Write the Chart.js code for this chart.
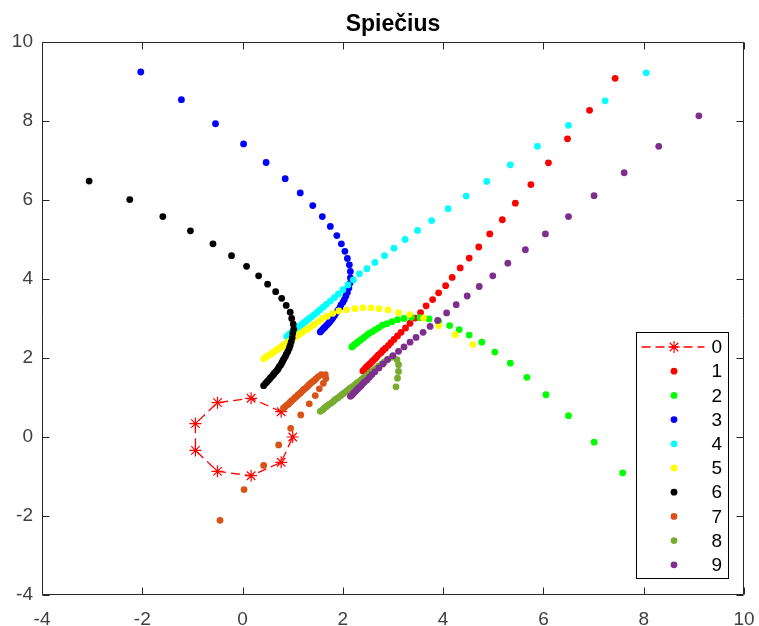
<!DOCTYPE html>
<html>
<head>
<meta charset="utf-8">
<title>Spiečius</title>
<script src="https://cdn.jsdelivr.net/npm/chart.js@4.4.1/dist/chart.umd.min.js"></script>
<style>
  html, body { margin: 0; padding: 0; background: #fff; }
  #plot { display: block; }
</style>
</head>
<body>
<canvas id="plot" width="759" height="626"></canvas>
<script>
// ==================== DATA ====================
const seriesLabels = ['0', '1', '2', '3', '4', '5', '6', '7', '8', '9'];
const seriesColors = ['#ff0000', '#ff0000', '#00ff00', '#0000ff', '#00ffff',
                      '#ffff00', '#000000', '#d95319', '#77ac30', '#7e2f8e'];

// cluster centres, joined by a dashed line
const pts0 = [[0.77,0.64],[0.17,0.98],[-0.50,0.87],[-0.94,0.34],[-0.94,-0.34],
              [-0.50,-0.87],[0.17,-0.98],[0.77,-0.64],[1.00,0.00]];

const pts1 = [[2.40,1.67],[2.42,1.70],[2.45,1.74],[2.48,1.78],[2.51,1.82],[2.54,1.85],[2.57,1.89],
              [2.60,1.93],[2.64,1.98],[2.67,2.02],[2.71,2.08],[2.76,2.13],[2.80,2.19],[2.85,2.25],
              [2.91,2.32],[2.96,2.39],[3.02,2.47],[3.09,2.56],[3.16,2.65],[3.25,2.76],[3.34,2.88],
              [3.44,3.01],[3.55,3.15],[3.66,3.32],[3.79,3.48],[3.91,3.65],[4.05,3.83],[4.18,4.04],
              [4.34,4.28],[4.52,4.53],[4.71,4.81],[4.93,5.14],[5.18,5.50],[5.44,5.92],[5.75,6.39],
              [6.10,6.94],[6.48,7.55],[6.92,8.27],[7.43,9.08]];

const pts2 = [[2.18,2.28],[2.21,2.31],[2.24,2.35],[2.28,2.38],[2.31,2.42],[2.35,2.45],[2.39,2.49],
              [2.43,2.53],[2.48,2.58],[2.53,2.63],[2.59,2.67],[2.65,2.72],[2.72,2.77],[2.79,2.83],
              [2.88,2.87],[2.98,2.92],[3.09,2.97],[3.22,3.00],[3.37,3.03],[3.54,3.02],[3.72,2.99],
              [3.91,2.93],[4.13,2.82],[4.32,2.72],[4.52,2.58],[4.77,2.40],[5.03,2.15],[5.34,1.87],
              [5.67,1.51],[6.05,1.07],[6.50,0.54],[7.01,-0.13],[7.58,-0.91]];

const pts3 = [[1.55,2.66],[1.58,2.70],[1.61,2.74],[1.64,2.78],[1.67,2.82],[1.70,2.86],[1.73,2.90],
              [1.75,2.94],[1.78,2.98],[1.80,3.02],[1.83,3.07],[1.85,3.12],[1.88,3.16],[1.91,3.22],
              [1.94,3.27],[1.96,3.34],[2.00,3.41],[2.03,3.48],[2.06,3.57],[2.09,3.66],[2.12,3.77],
              [2.14,3.89],[2.15,4.03],[2.15,4.19],[2.13,4.36],[2.09,4.52],[2.04,4.70],[1.97,4.89],
              [1.88,5.10],[1.75,5.33],[1.59,5.58],[1.40,5.86],[1.15,6.18],[0.85,6.54],[0.47,6.95],
              [0.02,7.42],[-0.54,7.93],[-1.22,8.54],[-2.03,9.24]];

const pts4 = [[0.88,2.55],[0.92,2.59],[0.96,2.63],[0.99,2.66],[1.03,2.70],[1.06,2.73],[1.10,2.77],
              [1.13,2.80],[1.17,2.84],[1.20,2.87],[1.24,2.91],[1.28,2.95],[1.33,3.00],[1.38,3.05],
              [1.43,3.10],[1.49,3.16],[1.54,3.22],[1.61,3.29],[1.67,3.36],[1.75,3.44],[1.83,3.53],
              [1.91,3.62],[2.00,3.73],[2.10,3.85],[2.21,3.98],[2.33,4.13],[2.48,4.26],[2.64,4.42],
              [2.83,4.59],[3.02,4.78],[3.24,5.00],[3.49,5.23],[3.77,5.48],[4.10,5.78],[4.46,6.10],
              [4.87,6.47],[5.34,6.89],[5.88,7.36],[6.50,7.89],[7.23,8.51],[8.05,9.22]];

const pts5 = [[0.42,1.98],[0.46,2.02],[0.50,2.05],[0.54,2.08],[0.58,2.11],[0.61,2.15],[0.65,2.18],
              [0.69,2.21],[0.73,2.25],[0.77,2.28],[0.80,2.31],[0.84,2.34],[0.88,2.38],[0.92,2.41],
              [0.96,2.45],[1.00,2.48],[1.05,2.53],[1.11,2.58],[1.16,2.62],[1.22,2.68],[1.29,2.73],
              [1.36,2.79],[1.43,2.85],[1.51,2.92],[1.59,3.00],[1.69,3.06],[1.80,3.13],[1.92,3.19],
              [2.07,3.22],[2.24,3.25],[2.40,3.27],[2.56,3.27],[2.72,3.25],[2.90,3.22],[3.11,3.15],
              [3.33,3.10],[3.61,3.01],[3.91,2.82],[4.24,2.59],[4.59,2.34]];

const pts6 = [[0.42,1.30],[0.46,1.36],[0.49,1.40],[0.52,1.44],[0.55,1.49],[0.58,1.53],[0.61,1.57],
              [0.63,1.61],[0.66,1.65],[0.69,1.69],[0.71,1.73],[0.73,1.78],[0.76,1.82],[0.78,1.87],
              [0.80,1.92],[0.82,1.97],[0.85,2.03],[0.87,2.09],[0.90,2.16],[0.93,2.24],[0.95,2.32],
              [0.97,2.41],[0.99,2.51],[1.00,2.62],[1.02,2.73],[1.01,2.86],[0.98,3.00],[0.95,3.16],
              [0.87,3.33],[0.78,3.51],[0.66,3.68],[0.50,3.87],[0.32,4.08],[0.08,4.32],[-0.22,4.59],
              [-0.59,4.89],[-1.04,5.22],[-1.59,5.58],[-2.25,6.01],[-3.06,6.48]];

const pts7 = [[0.82,0.73],[0.85,0.77],[0.89,0.81],[0.92,0.84],[0.95,0.88],[0.98,0.92],[1.02,0.96],
              [1.05,1.00],[1.08,1.03],[1.11,1.07],[1.15,1.11],[1.18,1.15],[1.21,1.19],[1.24,1.22],
              [1.28,1.26],[1.31,1.30],[1.34,1.34],[1.38,1.38],[1.42,1.42],[1.46,1.47],[1.51,1.53],
              [1.57,1.58],[1.65,1.58],[1.66,1.48],[1.61,1.36],[1.53,1.22],[1.45,1.05],[1.33,0.84],
              [1.16,0.56],[0.96,0.22],[0.72,-0.20],[0.42,-0.72],[0.03,-1.33],[-0.45,-2.11]];

const pts8 = [[1.55,0.65],[1.60,0.69],[1.64,0.74],[1.68,0.78],[1.72,0.82],[1.77,0.86],[1.81,0.90],
              [1.85,0.95],[1.90,0.99],[1.94,1.03],[1.98,1.07],[2.02,1.11],[2.07,1.16],[2.11,1.20],
              [2.15,1.24],[2.20,1.28],[2.24,1.32],[2.28,1.37],[2.33,1.41],[2.37,1.45],[2.41,1.49],
              [2.45,1.53],[2.50,1.58],[2.54,1.62],[2.58,1.66],[2.63,1.70],[2.67,1.75],[2.72,1.80],
              [2.78,1.85],[2.83,1.90],[2.90,1.97],[2.98,2.02],[3.08,1.96],[3.11,1.83],[3.11,1.66],
              [3.09,1.49],[3.06,1.27]];

const pts9 = [[2.15,1.03],[2.17,1.05],[2.20,1.09],[2.23,1.13],[2.26,1.17],[2.29,1.21],[2.32,1.25],
              [2.36,1.29],[2.39,1.34],[2.43,1.39],[2.48,1.44],[2.53,1.51],[2.58,1.58],[2.64,1.65],
              [2.72,1.75],[2.80,1.85],[2.89,1.96],[3.00,2.06],[3.11,2.17],[3.22,2.28],[3.34,2.40],
              [3.46,2.52],[3.60,2.65],[3.74,2.80],[3.89,2.95],[4.07,3.14],[4.26,3.35],[4.48,3.57],
              [4.72,3.81],[4.99,4.08],[5.29,4.40],[5.64,4.74],[6.04,5.14],[6.50,5.58],[7.01,6.11],
              [7.61,6.69],[8.30,7.36],[9.10,8.13]];

const allPts = [pts0, pts1, pts2, pts3, pts4, pts5, pts6, pts7, pts8, pts9];

const xRange = [-4, 10];
const yRange = [-4, 10];
const tickStep = 2;
const titleText = 'Spiečius';

// ==================== STYLE ====================
const FONT = '"Liberation Sans", Arial, Helvetica, sans-serif';
const AXIS_COLOR = '#262626';
const LABEL_COLOR = '#404040';
const DOT_R = 3.4;
const STAR_R = 6;
const DASH = [9, 5];

function toXY(list) {
  return list.map(p => ({ x: p[0], y: p[1] }));
}

const datasets = allPts.map((list, i) => {
  const ds = {
    label: seriesLabels[i],
    data: toXY(list),
    // later series drawn on top
    order: 10 - i,
    backgroundColor: seriesColors[i],
    borderColor: seriesColors[i],
    pointRadius: DOT_R,
    pointBorderWidth: 0,
    pointStyle: 'circle',
    showLine: false
  };
  if (i === 0) {
    ds.showLine = true;
    ds.borderWidth = 1.3;
    ds.borderDash = DASH;
    ds.pointStyle = 'star';
    ds.pointRadius = STAR_R;
    ds.pointBorderWidth = 1.2;
    ds.pointBorderColor = seriesColors[0];
  }
  return ds;
});

// ==================== PLUGINS ====================
function drawStar(ctx, x, y, r) {
  const d = r * Math.SQRT1_2;
  ctx.beginPath();
  ctx.moveTo(x - r, y); ctx.lineTo(x + r, y);
  ctx.moveTo(x, y - r); ctx.lineTo(x, y + r);
  ctx.moveTo(x - d, y - d); ctx.lineTo(x + d, y + d);
  ctx.moveTo(x - d, y + d); ctx.lineTo(x + d, y - d);
  ctx.stroke();
}

// box around the axes with inward tick marks on all four sides
const axesBox = {
  id: 'axesBox',
  afterDatasetsDraw(chart) {
    const { ctx, chartArea: a, scales } = chart;
    const L = Math.round(a.left) + 0.5, R = Math.round(a.right) - 0.5;
    const T = Math.round(a.top) + 0.5, B = Math.round(a.bottom) - 0.5;
    const tl = 7;
    ctx.save();
    ctx.strokeStyle = AXIS_COLOR;
    ctx.lineWidth = 1;
    ctx.beginPath();
    ctx.rect(L, T, R - L, B - T);
    scales.x.ticks.forEach(t => {
      const px = Math.round(scales.x.getPixelForValue(t.value)) + 0.5;
      ctx.moveTo(px, B); ctx.lineTo(px, B - tl);
      ctx.moveTo(px, T); ctx.lineTo(px, T + tl);
    });
    scales.y.ticks.forEach(t => {
      const py = Math.round(scales.y.getPixelForValue(t.value)) + 0.5;
      ctx.moveTo(L, py); ctx.lineTo(L + tl, py);
      ctx.moveTo(R, py); ctx.lineTo(R - tl, py);
    });
    ctx.stroke();

    // title over the centre of the axes
    ctx.fillStyle = '#000';
    ctx.font = 'bold 23px ' + FONT;
    ctx.textAlign = 'center';
    ctx.textBaseline = 'middle';
    ctx.fillText(titleText, (a.left + a.right) / 2, 25);
    ctx.restore();
  }
};

// legend box in the lower right corner of the axes
const boxLegend = {
  id: 'boxLegend',
  afterDraw(chart) {
    const { ctx, chartArea: a } = chart;
    const w = 92, h = 246;
    const left = Math.round(a.right - 16 - w) + 0.5;
    const top = Math.round(a.bottom - 17 - h) + 0.5;
    ctx.save();
    ctx.fillStyle = '#fff';
    ctx.fillRect(left, top, w, h);
    ctx.strokeStyle = '#000';
    ctx.lineWidth = 1;
    ctx.strokeRect(left, top, w, h);

    const rowH = 24.2;
    const mx = left + 37.5;
    ctx.font = '19px ' + FONT;
    ctx.textAlign = 'left';
    ctx.textBaseline = 'middle';
    chart.data.datasets.forEach((ds, i) => {
      const y = top + 14.5 + i * rowH;
      if (ds.showLine) {
        ctx.strokeStyle = ds.borderColor;
        ctx.lineWidth = ds.borderWidth;
        ctx.setLineDash(ds.borderDash);
        ctx.beginPath();
        ctx.moveTo(left + 5, y);
        ctx.lineTo(left + 68, y);
        ctx.stroke();
        ctx.setLineDash([]);
        ctx.lineWidth = 1.2;
        drawStar(ctx, mx, y, STAR_R);
      } else {
        ctx.fillStyle = ds.backgroundColor;
        ctx.beginPath();
        ctx.arc(mx, y, DOT_R, 0, Math.PI * 2);
        ctx.fill();
      }
      ctx.fillStyle = '#000';
      ctx.fillText(ds.label, left + 75, y + 1);
    });
    ctx.restore();
  }
};

// ==================== CHART ====================
const tickFont = { family: FONT, size: 19 };

new Chart(document.getElementById('plot'), {
  type: 'scatter',
  data: { datasets: datasets },
  options: {
    responsive: false,
    animation: false,
    devicePixelRatio: 1,
    layout: { padding: { top: 42, right: 15, left: 0, bottom: 0 } },
    plugins: {
      legend: { display: false },
      title: { display: false },
      tooltip: { enabled: false }
    },
    elements: { line: { tension: 0 } },
    scales: {
      x: {
        type: 'linear',
        min: xRange[0],
        max: xRange[1],
        grid: { display: false, drawTicks: false },
        border: { display: false },
        ticks: { stepSize: tickStep, autoSkip: false, maxRotation: 0,
                 font: tickFont, color: LABEL_COLOR, padding: 13 },
        afterFit(s) { s.height = 31; s.paddingLeft = 0; s.paddingRight = 0; }
      },
      y: {
        type: 'linear',
        min: yRange[0],
        max: yRange[1],
        grid: { display: false, drawTicks: false },
        border: { display: false },
        ticks: { stepSize: tickStep, autoSkip: false,
                 font: tickFont, color: LABEL_COLOR, padding: 9 },
        afterFit(s) { s.width = 42; s.paddingTop = 0; s.paddingBottom = 0; }
      }
    }
  },
  plugins: [axesBox, boxLegend]
});
</script>
</body>
</html>
